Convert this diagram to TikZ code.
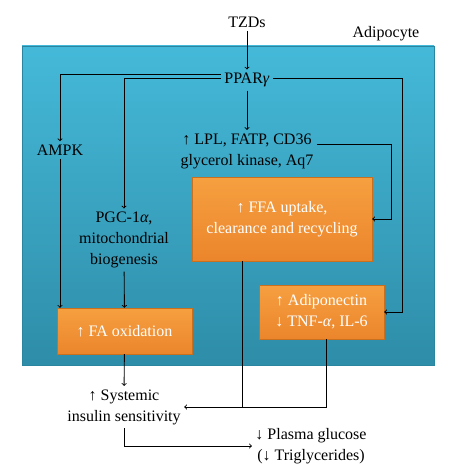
\documentclass[tikz,border=0pt]{standalone}
\usepackage{fontspec}
\setmainfont{Liberation Serif}
\usepackage{tikz}
\usetikzlibrary{arrows, positioning, calc}

\definecolor{celltop}{HTML}{45B9D9}
\definecolor{cellbot}{HTML}{2E8DA8}
\definecolor{celledge}{HTML}{2A86A0}
\definecolor{boxtop}{HTML}{F6A040}
\definecolor{boxbot}{HTML}{EB852C}
\definecolor{boxedge}{HTML}{C8701E}

\tikzset{
    txt/.style={font=\fontsize{16}{21}\selectfont, align=center},
    effect/.style={txt, rectangle, draw=boxedge, top color=boxtop, bottom color=boxbot,
        text=white, inner sep=0pt},
    link/.style={line width=0.9pt}
}

\begin{document}
\begin{tikzpicture}[x=1pt, y=-1pt]
    \useasboundingbox (0, 0) rectangle (468, 476);
    % adipocyte cell
    \draw[celledge, top color=celltop, bottom color=cellbot] (22, 46) rectangle (434, 365);
    \node[txt] (adipo) at (386, 34) {Adipocyte};

    \node[txt] (tzd) at (247, 22) {TZDs};
    \node[txt] (ppar) at (247, 80) {PPAR\textit{γ}};
    \node[txt] (lpl) at (247, 151) {↑ LPL, FATP, CD36\\glycerol kinase, Aq7};
    \node[txt] (ampk) at (60, 150) {AMPK};
    \node[txt] (pgc) at (124, 240) {PGC-1\textit{α},\\mitochondrial\\biogenesis};

    \node[effect, minimum width=180, minimum height=84] (ffa) at (282, 219) {↑ FFA uptake,\\clearance and recycling};
    \node[effect, minimum width=125, minimum height=54] (adipon) at (321.5, 312) {↑ Adiponectin\\↓ TNF-\textit{α}, IL-6};
    \node[effect, minimum width=135, minimum height=46] (fao) at (124.5, 331) {↑ FA oxidation};

    \node[txt] (sis) at (124, 407) {↑ Systemic\\insulin sensitivity};
    \node[txt] (plasma) at (311, 446) {↓ Plasma glucose\\(↓ Triglycerides)};

    % connectors
    \draw[link, ->] (tzd) -- (ppar);
    \draw[link, ->] (ppar) -- (lpl);
    \draw[link, ->] ([yshift=6pt]ppar.west) -| (ampk.north);
    \draw[link, ->] ([yshift=2pt]ppar.west) -| (pgc.north);
    \draw[link, ->] ([yshift=2pt]ppar.east) -| ([xshift=18pt]adipon.east) -- (adipon.east);
    \draw[link, ->] ([yshift=7pt]lpl.east) -| ([xshift=19pt]ffa.east) -- (ffa.east);
    \draw[link, ->] (ampk) -- (ampk |- fao.north);
    \draw[link, ->] (pgc) -- (fao);
    \draw[link, ->] (fao) -- (sis);
    \draw[link] ([xshift=-40pt]ffa.south) -- ([xshift=-40pt]ffa.south |- sis.east);
    \draw[link, ->] ([xshift=5pt]adipon.south) |- (sis.east);
    \draw[link, ->] (sis.south) |- (plasma.west);
\end{tikzpicture}
\end{document}
